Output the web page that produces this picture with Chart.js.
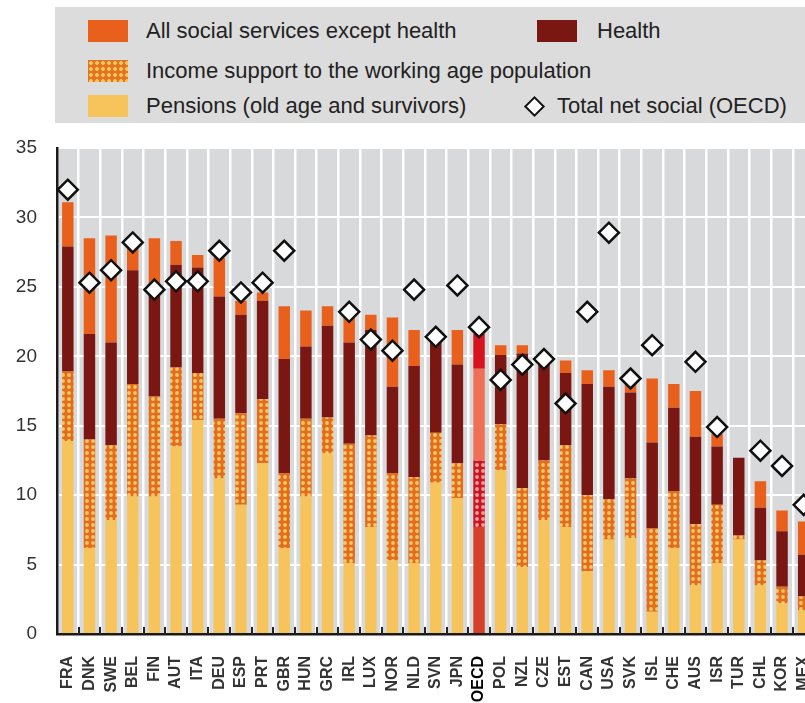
<!DOCTYPE html>
<html><head><meta charset="utf-8">
<script src="https://cdn.jsdelivr.net/npm/chart.js@4.4.0/dist/chart.umd.min.js"></script>
<style>
html,body{margin:0;padding:0;background:#fff;overflow:hidden;width:805px;height:703px;}
#wrap{position:relative;width:827px;height:703px;}
#c{position:absolute;left:0;top:0;}
#legend{position:absolute;left:55px;top:7px;width:780px;height:116px;background:#dcdcdc;font-family:"Liberation Sans",Arial,sans-serif;font-size:22px;color:#222;}
.t{position:absolute;white-space:nowrap;line-height:22px;}
.sw{position:absolute;width:40px;height:22px;}
.dia{position:absolute;width:11px;height:11px;background:#fff;border:2.5px solid #111;transform:rotate(45deg);}
</style></head>
<body>
<div id="wrap">
<canvas id="c" width="827" height="703"></canvas>
<div id="legend">
  <div class="sw" style="left:33px;top:13px;background:#e8601c;"></div>
  <div class="t" style="left:91px;top:13px;">All social services except health</div>
  <div class="sw" style="left:482px;top:13px;background:#7a1712;"></div>
  <div class="t" style="left:542px;top:13px;">Health</div>
  <div class="sw" style="left:33px;top:53px;background-color:#e5731f;background-image:radial-gradient(circle,#f7c55e 1.6px,transparent 2.2px);background-size:6px 6px;"></div>
  <div class="t" style="left:91px;top:53px;">Income support to the working age population</div>
  <div class="sw" style="left:33px;top:88px;background:#f7c45c;"></div>
  <div class="t" style="left:91px;top:88px;">Pensions (old age and survivors)</div>
  <div class="dia" style="left:472px;top:92px;"></div>
  <div class="t" style="left:502px;top:88px;">Total net social (OECD)</div>
</div>
</div>
<script>
const countries = ["FRA","DNK","SWE","BEL","FIN","AUT","ITA","DEU","ESP","PRT","GBR","HUN","GRC","IRL","LUX","NOR","NLD","SVN","JPN","OECD","POL","NZL","CZE","EST","CAN","USA","SVK","ISL","CHE","AUS","ISR","TUR","CHL","KOR","MEX"];
const pensions       = [13.9,6.2,8.2,9.9,9.9,13.5,15.4,11.2,9.3,12.3,6.2,9.9,13.0,5.1,7.7,5.3,5.1,10.9,9.8,7.7,11.8,4.8,8.2,7.7,4.5,6.8,6.9,1.6,6.2,3.5,5.1,6.8,3.5,2.2,1.7];
const incomeSupport  = [5.0,7.8,5.4,8.1,7.2,5.7,3.4,4.3,6.6,4.6,5.4,5.6,2.6,8.6,6.6,6.3,6.2,3.6,2.5,4.8,3.3,5.7,4.3,5.9,5.5,2.9,4.3,6.0,4.1,4.4,4.2,0.3,1.8,1.2,1.0];
const health         = [9.0,7.6,7.4,8.2,7.5,7.4,7.6,8.8,7.1,7.1,8.2,5.2,6.6,7.3,7.6,6.2,8.0,6.5,7.1,6.6,5.0,9.7,7.0,5.2,8.0,8.1,6.2,6.2,6.0,6.3,4.2,5.6,3.8,4.0,3.0];
const socialServices = [3.2,6.9,7.7,1.8,3.9,1.7,0.9,2.8,1.0,0.6,3.8,2.6,1.4,1.9,1.1,5.0,2.6,0.9,2.5,2.5,0.7,0.6,0.4,0.9,1.0,1.2,0.8,4.6,1.7,3.3,0.9,0.0,1.9,1.5,2.4];
const totalNetSocial = [32.0,25.3,26.2,28.2,24.8,25.4,25.4,27.6,24.6,25.3,27.6,null,null,23.2,21.2,20.4,24.8,21.4,25.1,22.1,18.3,19.4,19.8,16.6,23.2,28.9,18.4,20.8,null,19.6,14.9,null,13.2,12.1,9.3];
const yTicks = [0,5,10,15,20,25,30,35];

const canvas = document.getElementById('c');
const ctx0 = canvas.getContext('2d');
function makePattern(bg, dot){
  const t = document.createElement('canvas'); t.width = 6; t.height = 6;
  const g = t.getContext('2d');
  g.fillStyle = bg; g.fillRect(0,0,6,6);
  g.fillStyle = dot; g.beginPath(); g.arc(3,3,1.9,0,Math.PI*2); g.fill();
  return ctx0.createPattern(t,'repeat');
}
const patOrange = makePattern('#e36d1f','#f8c862');
const patRed = makePattern('#c8142a','#f3a28a');
const isO = countries.map(c => c === 'OECD');
const col = (normal, oecd) => isO.map(o => o ? oecd : normal);

const bgPlugin = {id:'bg', beforeDraw(chart){
  const {ctx, chartArea:a} = chart;
  ctx.save(); ctx.fillStyle = '#d8d9db';
  ctx.fillRect(a.left, a.top, a.right - a.left, a.bottom - a.top); ctx.restore();
}};
const tickPlugin = {id:'tk', afterDatasetsDraw(chart){
  const {ctx, chartArea:a, scales:{x}} = chart;
  const n = countries.length, w = (a.right - a.left) / n;
  ctx.save(); ctx.strokeStyle = '#222'; ctx.lineWidth = 2;
  for (let i = 1; i < n; i++){
    const px = Math.round(x.getPixelForValue(i) - w/2);
    ctx.beginPath(); ctx.moveTo(px, a.bottom); ctx.lineTo(px, a.bottom - 7); ctx.stroke();
  }
  ctx.restore();
}};

new Chart(canvas, {
  type:'bar',
  data:{
    labels: countries,
    datasets:[
      {label:'Pensions (old age and survivors)', data:pensions, backgroundColor:col('#f7c45c','#d4402a')},
      {label:'Income support to the working age population', data:incomeSupport, backgroundColor:col(patOrange, patRed)},
      {label:'Health', data:health, backgroundColor:col('#7a1712','#ee7157')},
      {label:'All social services except health', data:socialServices, backgroundColor:col('#e8601c','#d7141e')},
      {type:'line', label:'Total net social (OECD)', data:totalNetSocial, showLine:false, stack:'dia', order:-1,
       pointStyle:'rectRot', pointRadius:10, pointBackgroundColor:'#fff', pointBorderColor:'#111', pointBorderWidth:2.5}
    ]
  },
  options:{
    responsive:false, animation:false,
    datasets:{bar:{categoryPercentage:1, barPercentage:0.53, borderWidth:0}},
    layout:{padding:{top:148,left:0,right:0,bottom:0}},
    plugins:{legend:{display:false}, tooltip:{enabled:false}},
    scales:{
      x:{stacked:true,
         grid:{color:'#fff', lineWidth:2.5, drawTicks:false, offset:true},
         border:{color:'#1a1a1a', width:2.5},
         ticks:{autoSkip:false, maxRotation:90, minRotation:90, padding:22,
                color:(c)=> isO[c.index] ? '#000' : '#333',
                font:{family:'Liberation Sans', size:16, weight:'bold'}},
         afterFit(s){ s.height = 69; s.paddingLeft = 0; s.paddingRight = 0; }},
      y:{stacked:true, min:0, max:35,
         afterBuildTicks(s){ s.ticks = yTicks.map(v => ({value:v})); },
         grid:{color:'#fff', lineWidth:2, drawTicks:false},
         border:{color:'#1a1a1a', width:2.5},
         ticks:{padding:20, color:'#333', font:{family:'Liberation Sans', size:19}},
         afterFit(s){ s.width = 57; }}
    }
  },
  plugins:[bgPlugin, tickPlugin]
});
</script>
</body></html>
